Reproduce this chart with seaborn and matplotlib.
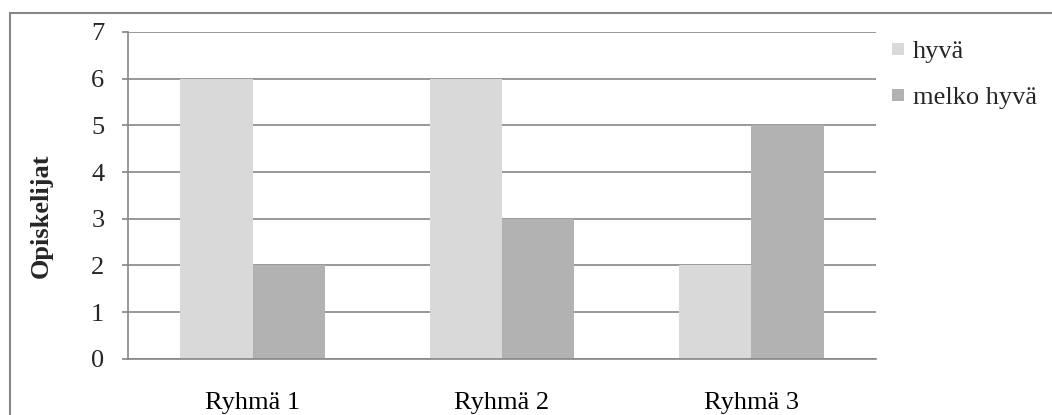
import matplotlib
matplotlib.use("Agg")
import matplotlib.pyplot as plt
from matplotlib.lines import Line2D
import seaborn as sns
import pandas as pd

groups = ["Ryhmä 1", "Ryhmä 2", "Ryhmä 3"]
series = ["hyvä", "melko hyvä"]
hyva = [6, 6, 2]
melko_hyva = [2, 3, 5]
y_ticks = [0, 1, 2, 3, 4, 5, 6, 7]
y_label = "Opiskelijat"

colors = ["#D9D9D9", "#B2B2B2"]
grid_color = "#868686"

df = pd.DataFrame({
    "ryhma": groups * 2,
    "arvio": [series[0]] * 3 + [series[1]] * 3,
    "lkm": hyva + melko_hyva,
})

sns.set_theme(style="white")
plt.rcParams["font.family"] = ["Liberation Serif", "DejaVu Serif"]

fig = plt.figure(figsize=(10.52, 4.15), dpi=100)
ax = fig.add_axes([0.1217, 0.1357, 0.7110, 0.7872])

sns.barplot(data=df, x="ryhma", y="lkm", hue="arvio", palette=colors,
            width=0.58, saturation=1, ax=ax, legend=False, linewidth=0)

ax.set_xlim(-0.5, len(groups) - 0.5)
ax.set_ylim(0, 7)
ax.set_yticks(y_ticks)
ax.set_yticklabels([str(t) for t in y_ticks], fontsize=19)
ax.set_xticks(range(len(groups)))
ax.set_xticklabels(groups, fontsize=19)
ax.set_xticks([i - 0.5 for i in range(len(groups) + 1)], minor=True)
ax.tick_params(axis="x", which="major", length=0, pad=24, colors="black")
ax.tick_params(axis="x", which="minor", length=5, width=1.2, color=grid_color, direction="out")
ax.tick_params(axis="y", length=4.5, width=1.2, color=grid_color, pad=12.5, left=True, direction="out")
ax.set_xlabel("")
ax.set_ylabel(y_label, fontsize=19, fontweight="bold")
ax.yaxis.set_label_coords(-0.1005, 0.437)

ax.set_axisbelow(True)
ax.yaxis.grid(True, color=grid_color, linewidth=1.2)
ax.xaxis.grid(False)
for side in ["top", "right"]:
    ax.spines[side].set_visible(False)
for side in ["left", "bottom"]:
    ax.spines[side].set_color(grid_color)
    ax.spines[side].set_linewidth(1.2)

handles = [Line2D([], [], marker="s", linestyle="none", markersize=8,
                  markerfacecolor=c, markeredgewidth=0) for c in colors]
fig.legend(handles, series, loc="upper left", bbox_to_anchor=(0.8365, 0.93),
           frameon=False, fontsize=19, handlelength=0.6, handletextpad=0.25,
           labelspacing=0.85, borderaxespad=0)

# frame lines along the top and left of the chart area
fig.add_artist(Line2D([10 / 1052, 1.0], [1 - 13 / 415] * 2, color=grid_color, lw=1.5))
fig.add_artist(Line2D([10 / 1052] * 2, [0.0, 1 - 13 / 415], color=grid_color, lw=1.5))

fig.savefig("out.png", dpi=100)
